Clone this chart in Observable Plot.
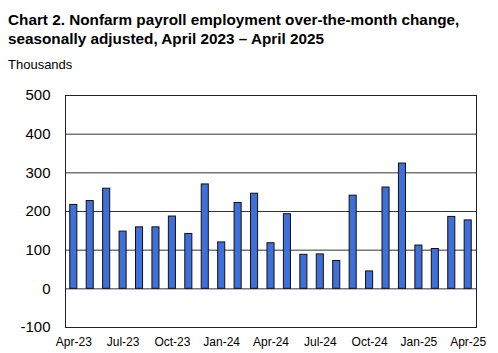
<!DOCTYPE html>
<html>
<head>
<meta charset="utf-8">
<script src="https://cdn.jsdelivr.net/npm/d3@7"></script>
<script src="https://cdn.jsdelivr.net/npm/@observablehq/plot@0.6"></script>
<style>
  html, body { margin: 0; padding: 0; background: #fff; }
  #wrap { position: relative; width: 498px; height: 353px; font-family: "Liberation Sans", Arial, sans-serif; }
  #title { position: absolute; left: 8px; top: 10px; font-weight: bold; font-size: 15.3px; line-height: 19px; color: #000; margin: 0; white-space: nowrap; }
  #unit { position: absolute; left: 8px; top: 57px; font-size: 13px; color: #000; }
  #chart { position: absolute; left: 0; top: 0; }
</style>
</head>
<body>
<div id="wrap">
  <div id="chart"></div>
  <div id="title">Chart 2. Nonfarm payroll employment over-the-month change,<br>seasonally adjusted, April 2023 – April 2025</div>
  <div id="unit">Thousands</div>
</div>
<script>
const months = ["Apr-23","May-23","Jun-23","Jul-23","Aug-23","Sep-23","Oct-23","Nov-23","Dec-23",
  "Jan-24","Feb-24","Mar-24","Apr-24","May-24","Jun-24","Jul-24","Aug-24","Sep-24","Oct-24","Nov-24","Dec-24",
  "Jan-25","Feb-25","Mar-25","Apr-25"];
const values = [217, 227, 259, 148, 159, 159, 187, 142, 270, 120, 222, 246, 118, 193, 88, 89, 72, 241, 45, 262, 324, 112, 103, 186, 177];
const tickLabels = ["Apr-23","Jul-23","Oct-23","Jan-24","Apr-24","Jul-24","Oct-24","Jan-25","Apr-25"];
const yTicks = [-100, 0, 100, 200, 300, 400, 500];

const data = months.map((m, i) => ({month: m, value: values[i]}));

const chart = Plot.plot({
  width: 498,
  height: 353,
  marginTop: 95,
  marginBottom: 26,
  marginLeft: 65,
  marginRight: 22,
  style: {fontFamily: "'Liberation Sans', Arial, sans-serif", background: "transparent", color: "#000"},
  x: {domain: months, padding: 0.57, paddingOuter: 0.29, round: false},
  y: {domain: [-100, 500]},
  marks: [
    Plot.gridY(yTicks.filter(d => d > -100 && d < 500), {stroke: "#333", strokeOpacity: 1, strokeWidth: 1}),
    Plot.barY(data, {x: "month", y: "value", fill: "#3f6fd8", stroke: "#111", strokeWidth: 1}),
    Plot.frame({stroke: "#222", strokeWidth: 1}),
    Plot.axisY({ticks: yTicks, tickSize: 0, tickPadding: 15, fontSize: 15, label: null, tickFormat: d => String(d)}),
    Plot.axisX({ticks: tickLabels, tickSize: 0, tickPadding: 10, fontSize: 12, label: null})
  ]
});
document.getElementById("chart").appendChild(chart);
</script>
</body>
</html>
